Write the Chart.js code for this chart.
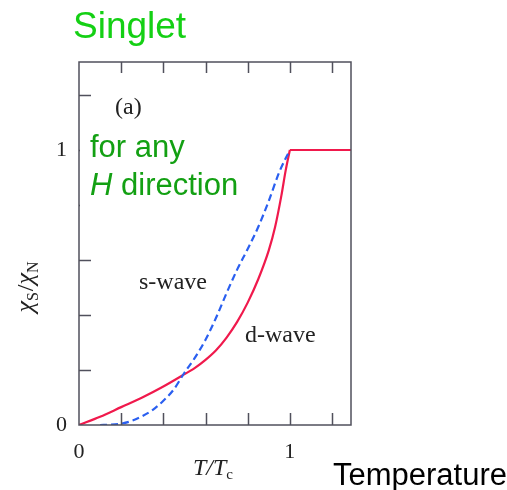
<!DOCTYPE html>
<html>
<head>
<meta charset="utf-8">
<script src="https://cdn.jsdelivr.net/npm/chart.js@4.4.1/dist/chart.umd.min.js"></script>
<style>
  html, body { margin: 0; padding: 0; background: #ffffff; }
  #c { display: block; }
</style>
</head>
<body>
<canvas id="c" width="507" height="490"></canvas>
<script>
// ---- data ----
const dwaveT   = [0, 0.1, 0.2, 0.3, 0.4, 0.49, 0.55, 0.6, 0.65, 0.7, 0.75, 0.8, 0.85, 0.9, 0.93, 0.96, 0.98, 1.0];
const dwaveChi = [0, 0.03, 0.065, 0.1, 0.14, 0.18, 0.208, 0.237, 0.272, 0.318, 0.375, 0.445, 0.53, 0.635, 0.72, 0.835, 0.925, 1.0];
const normalT   = [1.0, 1.29];
const normalChi = [1.0, 1.0];
const swaveT   = [0.1, 0.15, 0.2, 0.25, 0.3, 0.35, 0.4, 0.45, 0.5, 0.55, 0.6, 0.65, 0.7, 0.75, 0.8, 0.85, 0.9, 0.95, 1.0];
const swaveChi = [0, 0.001, 0.005, 0.015, 0.032, 0.055, 0.088, 0.13, 0.19, 0.245, 0.31, 0.39, 0.48, 0.565, 0.64, 0.72, 0.815, 0.92, 1.0];
const xTickValues = [0.2, 0.4, 0.6, 0.8, 1.0, 1.2];
const yTickValues = [0.2, 0.4, 0.6, 0.8, 1.0, 1.2];
const labelledTicks = [0, 1];

const pts = (xs, ys) => xs.map((v, i) => ({ x: v, y: ys[i] }));
const RED = '#f0194c';
const BLUE = '#2a5ff0';

function showLabel(v) {
  return labelledTicks.some(t => Math.abs(t - v) < 1e-9) ? String(Math.round(v)) : '';
}

function drawRuns(ctx, runs, cx, baseline) {
  let w = 0;
  runs.forEach(r => { ctx.font = r.font; w += ctx.measureText(r.t).width + (r.gap || 0); });
  let x = cx - w / 2;
  runs.forEach(r => {
    ctx.font = r.font;
    ctx.fillText(r.t, x, baseline + (r.dy || 0));
    x += ctx.measureText(r.t).width + (r.gap || 0);
  });
}

const decor = {
  id: 'decor',
  afterDraw(chart) {
    const { ctx, chartArea: a, scales: { x, y } } = chart;
    ctx.save();
    // inward tick marks
    ctx.strokeStyle = '#50505c';
    ctx.lineWidth = 1.5;
    const L = 12;
    ctx.beginPath();
    xTickValues.forEach(v => {
      const px = Math.round(x.getPixelForValue(v)) + 0.5;
      ctx.moveTo(px, a.bottom); ctx.lineTo(px, a.bottom - L);
      ctx.moveTo(px, a.top); ctx.lineTo(px, a.top + 11);
    });
    yTickValues.forEach(v => {
      const py = Math.round(y.getPixelForValue(v)) + 0.5;
      ctx.moveTo(a.left, py); ctx.lineTo(a.left + L, py);
    });
    ctx.stroke();

    // white text box (covers part of the left axis ticks, as in the slide)
    ctx.fillStyle = '#ffffff';
    ctx.fillRect(a.left + 1, 128, 165, 82);

    // frame
    ctx.strokeStyle = '#50505c';
    ctx.lineWidth = 1.5;
    ctx.strokeRect(a.left, a.top, a.right - a.left, a.bottom - a.top);

    ctx.textBaseline = 'alphabetic';
    ctx.textAlign = 'left';

    // Singlet
    ctx.fillStyle = '#14d014';
    ctx.font = '37px "Liberation Sans", Arial, sans-serif';
    ctx.fillText('Singlet', 73, 38);

    // for any H direction
    ctx.fillStyle = '#13a013';
    ctx.font = '31px "Liberation Sans", Arial, sans-serif';
    ctx.fillText('for any', 90, 157);
    ctx.font = 'italic 31px "Liberation Sans", Arial, sans-serif';
    ctx.fillText('H', 90, 195);
    const hw = ctx.measureText('H ').width;
    ctx.font = '31px "Liberation Sans", Arial, sans-serif';
    ctx.fillText('direction', 90 + hw, 195);

    // (a), s-wave, d-wave
    ctx.fillStyle = '#222222';
    ctx.font = '24px "Liberation Serif", "Times New Roman", serif';
    ctx.fillText('(a)', 115, 114);
    ctx.fillText('s-wave', 139, 289);
    ctx.fillText('d-wave', 245, 342);

    // x title T/Tc
    drawRuns(ctx, [
      { t: 'T', font: 'italic 24px "Liberation Serif", serif' },
      { t: '/', font: 'italic 24px "Liberation Serif", serif' },
      { t: 'T', font: 'italic 24px "Liberation Serif", serif' },
      { t: 'c', font: '15px "Liberation Serif", serif', dy: 4 }
    ], 213, 475);

    // Temperature
    ctx.fillStyle = '#000000';
    ctx.font = '31px "Liberation Sans", Arial, sans-serif';
    ctx.fillText('Temperature', 333, 485);

    // y title chi_S / chi_N (rotated)
    ctx.fillStyle = '#222222';
    ctx.translate(28, 287);
    ctx.rotate(-Math.PI / 2);
    drawRuns(ctx, [
      { t: 'χ', font: 'italic 26px "Liberation Serif", serif' },
      { t: 'S', font: '16px "Liberation Serif", serif', dy: 5, gap: 1 },
      { t: '/', font: '24px "Liberation Serif", serif' },
      { t: 'χ', font: 'italic 26px "Liberation Serif", serif' },
      { t: 'N', font: '16px "Liberation Serif", serif', dy: 5 }
    ], 0, 5);
    ctx.restore();
  }
};

new Chart(document.getElementById('c'), {
  type: 'line',
  data: {
    datasets: [
      { label: 's-wave', data: pts(swaveT, swaveChi), borderColor: BLUE, borderWidth: 2.2,
        borderDash: [7, 4], cubicInterpolationMode: 'monotone', pointRadius: 0, fill: false },
      { label: 'd-wave', data: pts(dwaveT, dwaveChi), borderColor: RED, borderWidth: 2.2,
        cubicInterpolationMode: 'monotone', pointRadius: 0, fill: false },
      { label: 'normal state', data: pts(normalT, normalChi), borderColor: RED, borderWidth: 2.2,
        tension: 0, pointRadius: 0, fill: false }
    ]
  },
  options: {
    responsive: false,
    animation: false,
    devicePixelRatio: 1,
    layout: { padding: { left: 0, top: 62, right: 156, bottom: 0 } },
    plugins: { legend: { display: false }, tooltip: { enabled: false } },
    scales: {
      x: {
        type: 'linear', min: 0, max: 1.29,
        grid: { display: false, drawTicks: false },
        border: { display: false },
        ticks: { stepSize: 0.2, autoSkip: false, maxRotation: 0, padding: 14,
                 color: '#222', font: { family: '"Liberation Serif", serif', size: 22 },
                 callback: v => showLabel(v) },
        afterFit: s => { s.height = 65; }
      },
      y: {
        type: 'linear', min: 0, max: 1.32,
        grid: { display: false, drawTicks: false },
        border: { display: false },
        ticks: { stepSize: 0.2, autoSkip: false, padding: 12,
                 color: '#222', font: { family: '"Liberation Serif", serif', size: 22 },
                 callback: v => showLabel(v) },
        afterFit: s => { s.width = 79; }
      }
    }
  },
  plugins: [decor]
});
</script>
</body>
</html>
